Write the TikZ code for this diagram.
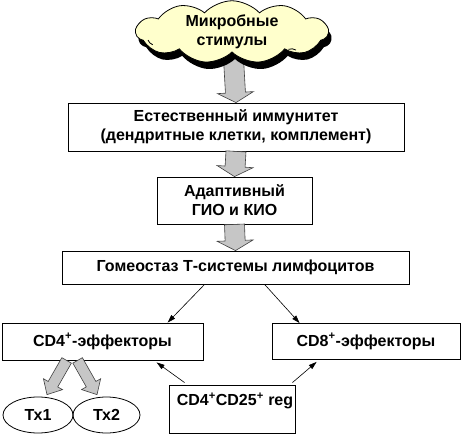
\documentclass[tikz,border=0pt]{standalone}
\usepackage{fontspec}
\setmainfont{Liberation Sans}
\usetikzlibrary{shapes.symbols,shapes.geometric,shadows,calc,arrows.meta,backgrounds}
\newcommand\blockarr[5]{%
  \coordinate (bahead) at ($(#2)!#5!(#1)$);
  \draw[barrow] ($(#1)!#3!90:(#2)$) -- ($(bahead)!#3!90:(#2)$) -- ($(bahead)!#4!90:(#2)$) -- (#2)
     -- ($(bahead)!#4!-90:(#2)$) -- ($(bahead)!#3!-90:(#2)$) -- ($(#1)!#3!-90:(#2)$) -- cycle;}
\begin{document}
\begin{tikzpicture}[x=1pt,y=-1pt,
  txtfont/.style={font=\bfseries\fontsize{16}{19}\selectfont},
  box/.style={draw, line width=0.8pt, fill=white, inner sep=0pt, align=center, txtfont},
  oval/.style={draw, line width=0.8pt, ellipse, inner sep=0pt, txtfont},
  barrow/.style={fill=gray!45, draw=black!75, line width=0.6pt, line join=miter},
  thinarrow/.style={draw, line width=0.6pt, -{Triangle[length=8pt,width=5pt]}},
  cloudmark/.style={line width=0.8pt},
  cloudstyle/.style={cloud, cloud puffs=11, cloud puff arc=95, cloud ignores aspect, draw, line width=0.8pt,
     fill={rgb,255:red,255;green,255;blue,204}, minimum width=192pt, minimum height=58pt,
     inner sep=0pt, align=center, txtfont,
     drop shadow={shadow xshift=3pt, shadow yshift=-7pt, fill=black, opacity=1}}]
\useasboundingbox (0,0) rectangle (461,434);
\node[cloudstyle] (cloud) at (232,32) {Микробные\\стимулы};
\draw[cloudmark] ($(cloud.center)+(-84,8)$) arc[start angle=200, end angle=250, radius=8pt];
\draw[cloudmark] ($(cloud.center)+(64,18)$) arc[start angle=60, end angle=110, radius=9pt];
\node[box, minimum width=336pt, minimum height=48pt] (box1) at (236,127)
   {Естественный иммунитет\\(дендритные клетки, комплемент)};
\node[box, minimum width=155pt, minimum height=47pt] (box2) at (234.5,200.5)
   {Адаптивный\\ГИО и КИО};
\node[box, minimum width=347pt, minimum height=33pt] (box3) at (235.5,267.5)
   {Гомеостаз Т-системы лимфоцитов};
\node[box, minimum width=201pt, minimum height=37pt] (cd4) at (102.5,341.5)
   {CD4\textsuperscript{+}-эффекторы};
\node[box, minimum width=188pt, minimum height=36pt] (cd8) at (366,341.5)
   {CD8\textsuperscript{+}-эффекторы};
\node[box, minimum width=126pt, minimum height=48pt] (reg) at (232,409) {};
\node[txtfont, inner sep=0pt] (regtxt) at ($(reg.north)+(3,16)$)
   {CD4\textsuperscript{+}CD25\textsuperscript{+} reg};
\node[oval, minimum width=70pt, minimum height=36pt] (tx1) at (38,415) {Тх1};
\node[oval, minimum width=67pt, minimum height=36pt] (tx2) at (106.5,415) {Тх2};
\begin{pgfonlayer}{background}
  \blockarr{cloud.center}{box1.north}{10pt}{18pt}{10pt}
\end{pgfonlayer}
\blockarr{box1.south}{box2.north}{10pt}{18pt}{10pt}
\blockarr{box2.south}{box3.north}{10pt}{18pt}{10pt}
\coordinate (s1) at ($(cd4.south west)+(65,0)$);
\coordinate (e1) at ($(tx1.north)+(9,-2)$);
\coordinate (s2) at ($(cd4.south west)+(76,0)$);
\coordinate (e2) at ($(tx2.north)+(-9.5,-2)$);
\blockarr{s1}{e1}{5.5pt}{11pt}{12pt}
\blockarr{s2}{e2}{5.5pt}{11pt}{12pt}
\coordinate (a1) at ($(box3.south west)+(143,0)$);
\coordinate (b1) at ($(cd4.north west)+(166,0)$);
\coordinate (a2) at ($(box3.south west)+(203,0)$);
\coordinate (b2) at ($(cd8.north west)+(28,0)$);
\coordinate (a3) at ($(reg.north west)+(16,-2)$);
\coordinate (b3) at ($(cd4.south west)+(155,2)$);
\coordinate (a4) at ($(reg.north east)+(-3,-2)$);
\coordinate (b4) at ($(cd8.south west)+(45,2)$);
\draw[thinarrow] (a1) -- (b1);
\draw[thinarrow] (a2) -- (b2);
\draw[thinarrow] (a3) -- (b3);
\draw[thinarrow] (a4) -- (b4);
\end{tikzpicture}
\end{document}
